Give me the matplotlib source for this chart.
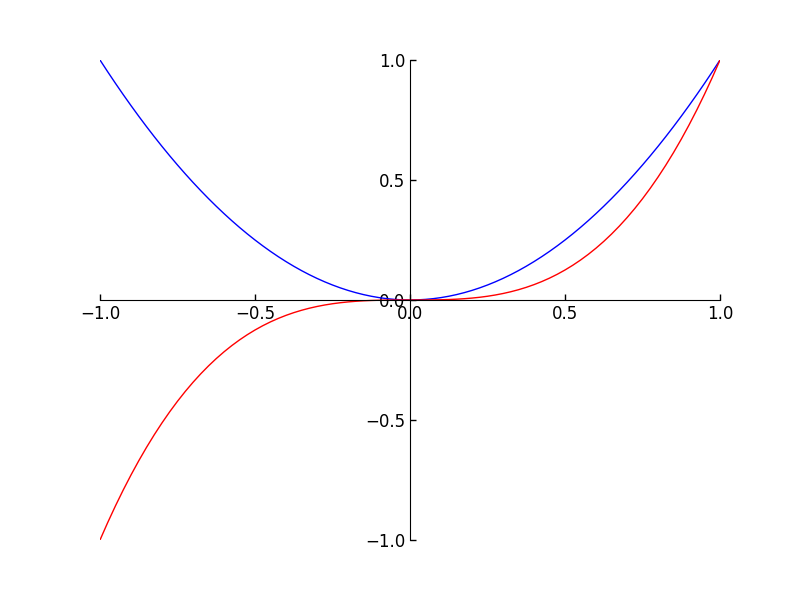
import matplotlib
matplotlib.use("Agg")
import matplotlib.pyplot as plt

# sample points (step 0.025)
x_vals = [-1.0, -0.975, -0.95, -0.925, -0.9, -0.875, -0.85, -0.825, -0.8, -0.775,
          -0.75, -0.725, -0.7, -0.675, -0.65, -0.625, -0.6, -0.575, -0.55, -0.525,
          -0.5, -0.475, -0.45, -0.425, -0.4, -0.375, -0.35, -0.325, -0.3, -0.275,
          -0.25, -0.225, -0.2, -0.175, -0.15, -0.125, -0.1, -0.075, -0.05, -0.025,
          0.0,
          0.025, 0.05, 0.075, 0.1, 0.125, 0.15, 0.175, 0.2, 0.225, 0.25,
          0.275, 0.3, 0.325, 0.35, 0.375, 0.4, 0.425, 0.45, 0.475, 0.5,
          0.525, 0.55, 0.575, 0.6, 0.625, 0.65, 0.675, 0.7, 0.725, 0.75,
          0.775, 0.8, 0.825, 0.85, 0.875, 0.9, 0.925, 0.95, 0.975, 1.0]
blue_vals = [1.0, 0.950625, 0.9025, 0.855625, 0.81, 0.765625, 0.7225, 0.680625, 0.64, 0.600625,
             0.5625, 0.525625, 0.49, 0.455625, 0.4225, 0.390625, 0.36, 0.330625, 0.3025, 0.275625,
             0.25, 0.225625, 0.2025, 0.180625, 0.16, 0.140625, 0.1225, 0.105625, 0.09, 0.075625,
             0.0625, 0.050625, 0.04, 0.030625, 0.0225, 0.015625, 0.01, 0.005625, 0.0025, 0.000625,
             0.0,
             0.000625, 0.0025, 0.005625, 0.01, 0.015625, 0.0225, 0.030625, 0.04, 0.050625, 0.0625,
             0.075625, 0.09, 0.105625, 0.1225, 0.140625, 0.16, 0.180625, 0.2025, 0.225625, 0.25,
             0.275625, 0.3025, 0.330625, 0.36, 0.390625, 0.4225, 0.455625, 0.49, 0.525625, 0.5625,
             0.600625, 0.64, 0.680625, 0.7225, 0.765625, 0.81, 0.855625, 0.9025, 0.950625, 1.0]
red_vals = [-1.0, -0.926859, -0.857375, -0.791453, -0.729, -0.669922, -0.614125, -0.561516, -0.512, -0.465484,
            -0.421875, -0.381078, -0.343, -0.307547, -0.274625, -0.244141, -0.216, -0.190109, -0.166375, -0.144703,
            -0.125, -0.107172, -0.091125, -0.076766, -0.064, -0.052734, -0.042875, -0.034328, -0.027, -0.020797,
            -0.015625, -0.011391, -0.008, -0.005359, -0.003375, -0.001953, -0.001, -0.000422, -0.000125, -0.000016,
            0.0,
            0.000016, 0.000125, 0.000422, 0.001, 0.001953, 0.003375, 0.005359, 0.008, 0.011391, 0.015625,
            0.020797, 0.027, 0.034328, 0.042875, 0.052734, 0.064, 0.076766, 0.091125, 0.107172, 0.125,
            0.144703, 0.166375, 0.190109, 0.216, 0.244141, 0.274625, 0.307547, 0.343, 0.381078, 0.421875,
            0.465484, 0.512, 0.561516, 0.614125, 0.669922, 0.729, 0.791453, 0.857375, 0.926859, 1.0]
tick_vals = [-1.0, -0.5, 0.0, 0.5, 1.0]

plt.rcParams['font.family'] = ['DejaVu Sans']
plt.rcParams['font.size'] = 12

fig = plt.figure(figsize=(8, 6), dpi=100)
ax = fig.add_axes([0.125, 0.1, 0.775, 0.8])

ax.plot(x_vals, blue_vals, color='blue', lw=1)
ax.plot(x_vals, red_vals, color='red', lw=1)

ax.set_xlim(-1, 1)
ax.set_ylim(-1, 1)

# spines through the origin, like the reference
ax.spines['right'].set_color('none')
ax.spines['top'].set_color('none')
ax.spines['bottom'].set_position(('data', 0))
ax.spines['left'].set_position(('data', 0))
ax.xaxis.set_ticks_position('bottom')
ax.yaxis.set_ticks_position('left')
ax.set_xticks(tick_vals)
ax.set_yticks(tick_vals)
ax.tick_params(direction='in', length=4, width=1, labelsize=12)

fig.savefig('out.png', dpi=100)
